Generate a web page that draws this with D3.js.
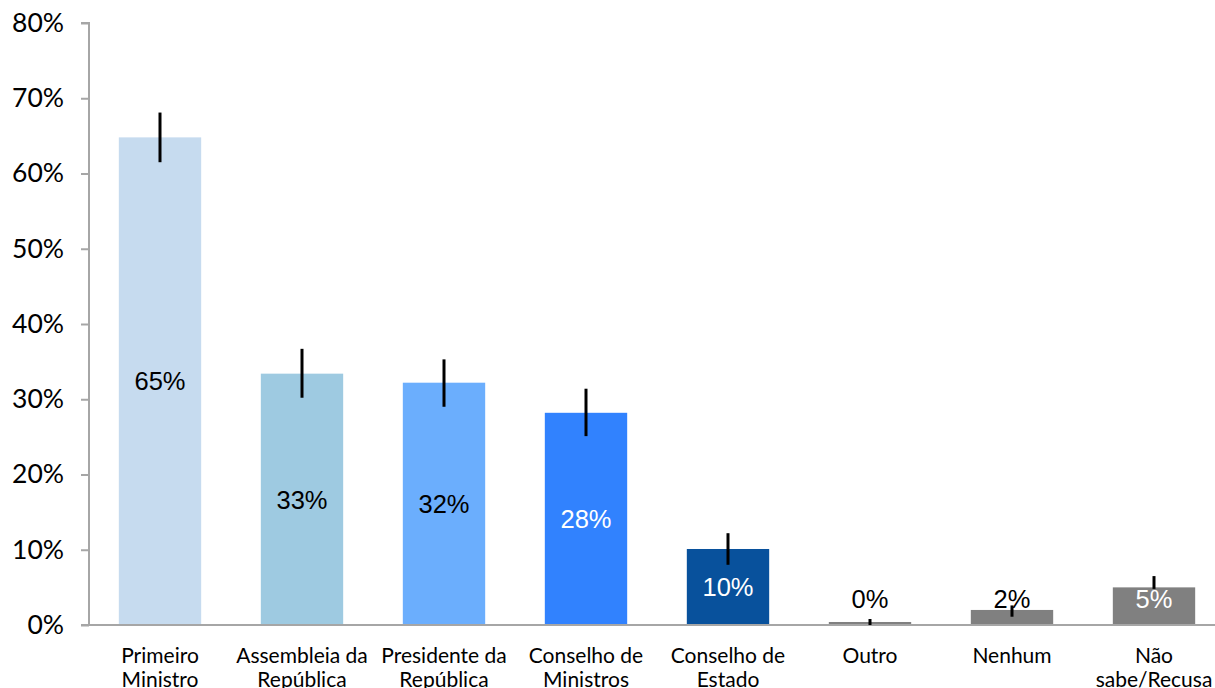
<!DOCTYPE html>
<html>
<head>
<meta charset="utf-8">
<script src="https://cdn.jsdelivr.net/npm/d3@7"></script>
<style>
	body { margin: 0; background: #fff; }
	svg { display: block; }
</style>
</head>
<body>
<svg id="chart" width="1215" height="688"></svg>
<script>
var categories = [['Primeiro', 'Ministro'], ['Assembleia da', 'República'], ['Presidente da', 'República'],
	['Conselho de', 'Ministros'], ['Conselho de', 'Estado'], ['Outro'], ['Nenhum'], ['Não', 'sabe/Recusa']];
var values = [0.648, 0.334, 0.322, 0.282, 0.101, 0.004, 0.020, 0.050];
var labels = ['65%', '33%', '32%', '28%', '10%', '0%', '2%', '5%'];
var err_high = [0.681, 0.367, 0.353, 0.314, 0.122, 0.008, 0.026, 0.065];
var err_low = [0.615, 0.302, 0.290, 0.251, 0.080, 0.000, 0.011, 0.048];
var colors = ['#c6dbef', '#9ecae1', '#6baefd', '#3182fe', '#08519c', '#808080', '#808080', '#808080'];
var label_colors = ['#000', '#000', '#000', '#fff', '#fff', '#000', '#000', '#fff'];
var y_ticks = [0, 0.1, 0.2, 0.3, 0.4, 0.5, 0.6, 0.7, 0.8];

var svg = d3.select('#chart');
var left = 89, top_y = 23, bottom_y = 625;

var x = d3.scaleBand()
	.domain(d3.range(categories.length))
	.range([left, left + 142 * categories.length])
	.paddingInner(0.42)
	.paddingOuter(0.21);

var y = d3.scaleLinear().domain([0, 0.8]).range([bottom_y, top_y]);

// y axis
var y_axis = svg.append('g')
	.attr('transform', 'translate(' + left + ',0)')
	.call(d3.axisLeft(y).tickValues(y_ticks).tickFormat(d3.format('.0%')).tickSize(8).tickPadding(17));
y_axis.select('.domain').attr('stroke', '#a6a6a6').attr('stroke-width', 2).attr('d', 'M-8,' + top_y + 'H0V' + bottom_y);
y_axis.selectAll('.tick line').attr('stroke', '#a6a6a6').attr('stroke-width', 2);
y_axis.selectAll('.tick text')
	.attr('font-family', 'Lato')
	.attr('font-size', 26.5)
	.attr('fill', '#000');

// bars
svg.append('g').selectAll('rect')
	.data(values)
	.enter()
	.append('rect')
		.attr('x', function(d, i) { return x(i); })
		.attr('y', function(d) { return y(d); })
		.attr('width', x.bandwidth())
		.attr('height', function(d) { return y(0) - y(d); })
		.attr('fill', function(d, i) { return colors[i]; });

// x axis line
svg.append('line')
	.attr('x1', left - 8).attr('x2', 1215)
	.attr('y1', y(0)).attr('y2', y(0))
	.attr('stroke', '#a6a6a6').attr('stroke-width', 2);

// error bars
svg.append('g').selectAll('line')
	.data(values)
	.enter()
	.append('line')
		.attr('x1', function(d, i) { return x(i) + x.bandwidth() / 2; })
		.attr('x2', function(d, i) { return x(i) + x.bandwidth() / 2; })
		.attr('y1', function(d, i) { return y(err_high[i]); })
		.attr('y2', function(d, i) { return y(err_low[i]); })
		.attr('stroke', '#000')
		.attr('stroke-width', 3);

// value labels
svg.append('g').selectAll('text')
	.data(values)
	.enter()
	.append('text')
		.attr('x', function(d, i) { return x(i) + x.bandwidth() / 2; })
		.attr('y', function(d) { return Math.min((y(d) + y(0)) / 2, y(0) - 26); })
		.attr('dy', '0.36em')
		.attr('text-anchor', 'middle')
		.attr('font-family', 'Liberation Sans, Arial, sans-serif')
		.attr('font-size', 25.5)
		.attr('fill', function(d, i) { return label_colors[i]; })
		.text(function(d, i) { return labels[i]; });

// category labels
var cat = svg.append('g').selectAll('text')
	.data(categories)
	.enter()
	.append('text')
		.attr('x', function(d, i) { return x(i) + x.bandwidth() / 2; })
		.attr('y', 663)
		.attr('text-anchor', 'middle')
		.attr('font-family', 'Lato')
		.attr('font-size', 21)
		.attr('fill', '#000');

cat.selectAll('tspan')
	.data(function(d) { return d; })
	.enter()
	.append('tspan')
		.attr('x', function() { return d3.select(this.parentNode).attr('x'); })
		.attr('dy', function(d, j) { return j == 0 ? 0 : 24; })
		.text(function(d) { return d; });
</script>
</body>
</html>
